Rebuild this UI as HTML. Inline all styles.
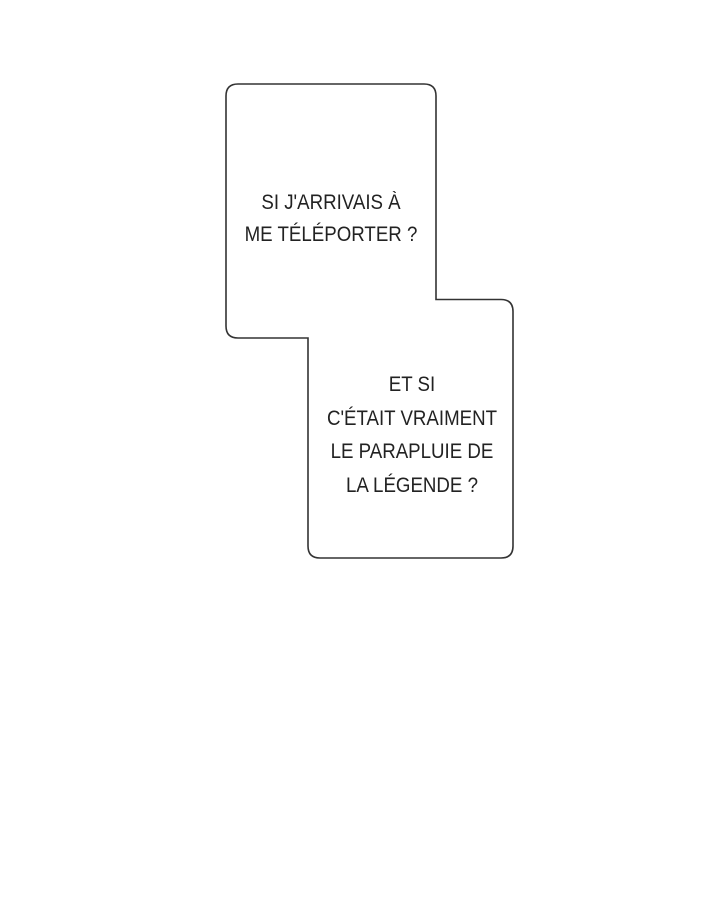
<!DOCTYPE html>
<html><head><meta charset="utf-8"><style>
html,body{margin:0;padding:0;background:#fff;}
.t{position:absolute;font-family:"Liberation Sans",sans-serif;font-size:21px;color:#222;text-align:center;white-space:nowrap;transform:scaleX(0.89);transform-origin:center;}
</style></head><body>
<div style="position:relative;width:720px;height:900px;overflow:hidden;">
<svg width="720" height="900" style="position:absolute;left:0;top:0">
<path d="M238,84 H424 Q436,84 436,96 V299.5 H501 Q513,299.5 513,311.5 V546 Q513,558 501,558 H320 Q308,558 308,546 V338 H238 Q226,338 226,326 V96 Q226,84 238,84 Z" fill="#fff" stroke="#333" stroke-width="1.6"/>
</svg>
<div class="t" style="left:231px;width:200px;top:187px;line-height:32px;">SI J'ARRIVAIS À<br>ME TÉLÉPORTER ?</div>
<div class="t" style="left:312px;width:200px;top:368px;line-height:33.5px;">ET SI<br>C'ÉTAIT VRAIMENT<br>LE PARAPLUIE DE<br>LA LÉGENDE ?</div>
</div>
</body></html>
